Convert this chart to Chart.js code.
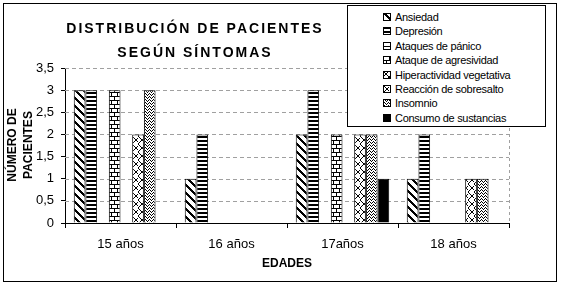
<!DOCTYPE html>
<html><head><meta charset="utf-8">
<script src="https://cdn.jsdelivr.net/npm/chart.js@4/dist/chart.umd.min.js"></script>
<style>
html,body{margin:0;padding:0;background:#fff;}
#wrap{position:relative;width:562px;height:287px;overflow:hidden;font-family:"Liberation Sans",Arial,sans-serif;color:#000;}
#frame{position:absolute;left:3px;top:3px;width:552px;height:277px;border:1px solid #000;}
#c{position:absolute;left:0;top:0;}
.t{position:absolute;left:-7px;width:400px;text-align:center;font-weight:bold;font-size:14px;letter-spacing:2px;padding-left:2px;line-height:16px;white-space:nowrap;}
#ytitle{position:absolute;left:-39px;top:129px;width:120px;height:32px;transform:rotate(-90deg);text-align:center;font-weight:bold;font-size:12px;line-height:15.5px;white-space:nowrap;}
#xtitle{position:absolute;left:187px;top:255px;width:200px;text-align:center;font-weight:bold;font-size:12px;line-height:16px;}
#legend{position:absolute;left:347px;top:5px;width:199px;height:122px;box-sizing:border-box;border:1px solid #000;background:#fff;}
.row{position:absolute;left:35px;height:14px;line-height:14px;font-size:11px;letter-spacing:-0.3px;white-space:nowrap;}
.row canvas{position:absolute;left:0;top:3px;}
.row span{position:absolute;left:12px;top:0;}
</style></head>
<body>
<div id="wrap">
  <div id="frame"></div>
  <canvas id="c" width="562" height="287"></canvas>
  <div class="t" style="top:20px">DISTRIBUCIÓN DE PACIENTES</div>
  <div class="t" style="top:44px">SEGÚN SÍNTOMAS</div>
  <div id="ytitle">NÚMERO DE<br>PACIENTES</div>
  <div id="xtitle">EDADES</div>
  <div id="legend"></div>
</div>
<script>
// ---- data ----
const categories = ['15 años', '16 años', '17años', '18 años'];
const seriesNames = ['Ansiedad', 'Depresión', 'Ataques de pánico', 'Ataque de agresividad',
  'Hiperactividad vegetativa', 'Reacción de sobresalto', 'Insomnio', 'Consumo de sustancias'];
const ansiedad = [3, 1, 2, 1];
const depresion = [3, 2, 3, 2];
const ataquesPanico = [0, 0, 0, 0];
const ataqueAgresividad = [3, 0, 2, 0];
const hiperactividad = [0, 0, 0, 0];
const sobresalto = [2, 0, 2, 1];
const insomnio = [3, 0, 2, 1];
const consumo = [0, 0, 1, 0];
const yMin = 0, yMax = 3.5, yStep = 0.5;
const seriesValues = [ansiedad, depresion, ataquesPanico, ataqueAgresividad, hiperactividad, sobresalto, insomnio, consumo];

// ---- patterns ----
function tile(w, h, draw) {
  const c = document.createElement('canvas'); c.width = w; c.height = h;
  const g = c.getContext('2d'); g.fillStyle = '#fff'; g.fillRect(0, 0, w, h);
  g.fillStyle = '#000'; draw(g, w, h); return c;
}
const px = (g, x, y) => g.fillRect(x, y, 1, 1);
const tiles = [
  tile(8, 8, (g) => { for (let y = 0; y < 8; y++) for (let k = 0; k < 3; k++) px(g, (y + k) % 8, y); }),
  tile(2, 4, (g) => { g.fillRect(0, 0, 2, 2); }),
  tile(2, 4, (g) => { g.fillRect(0, 0, 2, 1); }),
  tile(6, 8, (g) => { g.fillRect(0, 0, 6, 1); g.fillRect(0, 4, 6, 1); g.fillRect(0, 1, 1, 3); g.fillRect(3, 5, 1, 3); }),
  tile(6, 6, (g) => { for (let i = 0; i < 6; i++) { px(g, i, i); px(g, 5 - i, i); } }),
  tile(6, 8, (g) => { [[0,0],[1,1],[2,2],[3,3],[3,4],[2,5],[1,6],[0,7],[4,3],[5,2],[4,4],[5,5]].forEach(p => px(g, p[0], p[1])); }),
  tile(4, 3, (g) => { [[0,1],[1,0],[2,1],[3,2]].forEach(p => px(g, p[0], p[1])); }),
  tile(2, 2, (g) => { g.fillRect(0, 0, 2, 2); })
];

const ctx = document.getElementById('c').getContext('2d');
const patterns = tiles.map(t => ctx.createPattern(t, 'repeat'));

// ---- legend ----
const legend = document.getElementById('legend');
seriesNames.forEach((name, i) => {
  const row = document.createElement('div'); row.className = 'row';
  row.style.top = (4 + i * 14.4) + 'px';
  const sw = document.createElement('canvas'); sw.width = 8; sw.height = 8;
  const sg = sw.getContext('2d');
  sg.fillStyle = sg.createPattern(tiles[i], 'repeat'); sg.fillRect(0, 0, 8, 8);
  sg.strokeStyle = '#000'; sg.lineWidth = 1; sg.strokeRect(0.5, 0.5, 7, 7);
  const sp = document.createElement('span'); sp.textContent = name;
  row.appendChild(sw); row.appendChild(sp); legend.appendChild(row);
});

// ---- chart ----
const FONT = '"Liberation Sans", Arial, sans-serif';
const GRID = '#a0a0a0';
const gridPlugin = {
  id: 'gridPlugin',
  beforeDatasetsDraw(chart) {
    const { ctx: g, chartArea: a, scales: { x, y } } = chart;
    g.save();
    g.lineWidth = 1;
    // horizontal dashed grid lines at the y ticks (except 0)
    g.strokeStyle = GRID; g.setLineDash([4, 3]);
    y.ticks.forEach((t) => {
      if (t.value === yMin) return;
      const yp = Math.round(y.getPixelForValue(t.value)) + 0.5;
      g.beginPath(); g.moveTo(a.left, yp); g.lineTo(a.right, yp); g.stroke();
    });
    // dashed right edge of the plot area
    g.setLineDash([3, 3]);
    const xr = Math.round(a.right) + 0.5;
    g.beginPath(); g.moveTo(xr, a.top); g.lineTo(xr, a.bottom); g.stroke();
    // category boundary tick marks below the axis
    g.setLineDash([]); g.strokeStyle = '#000';
    for (let i = 0; i <= categories.length; i++) {
      const xp = Math.round(x.getPixelForValue(i - 0.5)) + 0.5;
      g.beginPath(); g.moveTo(xp, a.bottom); g.lineTo(xp, a.bottom + 5); g.stroke();
    }
    g.restore();
  }
};
new Chart(ctx, {
  type: 'bar',
  data: {
    labels: categories,
    datasets: seriesValues.map((vals, i) => ({
      label: seriesNames[i], data: vals,
      backgroundColor: patterns[i], borderColor: '#000',
      borderWidth: (c) => (c.raw ? 1 : 0)
    }))
  },
  plugins: [gridPlugin],
  options: {
    responsive: false, animation: false, devicePixelRatio: 1,
    layout: { padding: { left: 0, top: 68, right: 53, bottom: 0 } },
    plugins: { legend: { display: false }, title: { display: false }, tooltip: { enabled: false } },
    datasets: { bar: { categoryPercentage: 0.842, barPercentage: 1 } },
    scales: {
      x: {
        grid: { display: false },
        border: { display: true, color: '#000', width: 1 },
        ticks: { color: '#000', font: { family: FONT, size: 13 }, padding: 6, maxRotation: 0 },
        afterFit: (s) => { s.height = 64; }
      },
      y: {
        min: yMin, max: yMax,
        ticks: { stepSize: yStep, color: '#000', font: { family: FONT, size: 13 }, padding: 7,
          callback: (v) => String(v).replace('.', ',') },
        grid: { drawOnChartArea: false, color: '#000', tickColor: '#000', tickLength: 4 },
        border: { display: true, color: '#000', width: 1 },
        afterFit: (s) => { s.width = 65; }
      }
    }
  }
});
</script>
</body></html>
